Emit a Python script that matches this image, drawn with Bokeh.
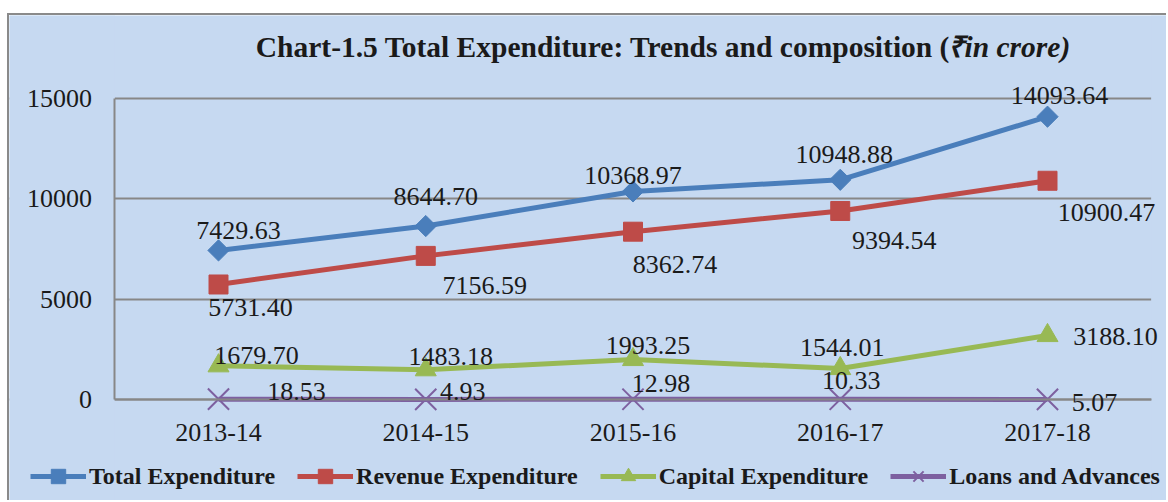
from bokeh.plotting import figure
from bokeh.models import (ColumnDataSource, Range1d, LabelSet, Label, BoxAnnotation,
                          Legend, LegendItem, FixedTicker)
from bokeh.embed import file_html
from bokeh.resources import INLINE
import math

years = ["2013-14", "2014-15", "2015-16", "2016-17", "2017-18"]
total = [7429.63, 8644.70, 10368.97, 10948.88, 14093.64]
revenue = [5731.40, 7156.59, 8362.74, 9394.54, 10900.47]
capital = [1679.70, 1483.18, 1993.25, 1544.01, 3188.10]
loans = [18.53, 4.93, 12.98, 10.33, 5.07]
y_ticks = [0, 5000, 10000, 15000]
series_names = ["Total Expenditure", "Revenue Expenditure", "Capital Expenditure", "Loans and Advances"]
title_main = "Chart-1.5 Total Expenditure: Trends and composition ("
title_unit = "\u20b9in crore)"

# label offsets (screen px, right / down)
total_dx = [20, 10, 0, 4, 12]
total_dy = [-20, -30, -16, -25, -21]
revenue_dx = [32, 59, 42, 54, 59]
revenue_dy = [23, 30, 33, 30, 32]
capital_dx = [38, 25, 15, 2, 68]
capital_dy = [-10, -13, -14, -21, 1]
loans_dx = [78, 37, 28, 11, 47]
loans_dy = [-8, -8, -16, -19, 3]

BG = "#C6D9F1"
GRID = "#878787"
INK = "#1a1a1a"
FONT = "Liberation Serif"
colors = ["#4A7EBB", "#BE4B48", "#98B954", "#7D60A0"]

# page-pixel layout of the plotting area
X0, DXP = 218.0, 207.25          # page x of first category, px per category
Y0, PPU = 399.0, 301.0 / 15000   # page y of value 0, px per unit
OX, OY = 9, 15                   # page position of canvas origin
W, H = 1159, 487

def dx_(px):
    return (px - X0) / DXP

def dy_(py):
    return (Y0 - py) / PPU

xs = list(range(len(years)))

p = figure(width=W, height=H, x_range=Range1d(dx_(OX), dx_(OX + W)),
           y_range=Range1d(dy_(OY + H), dy_(OY)), output_backend="svg", toolbar_location=None,
           min_border=0)
p.title.visible = False
p.styles = {"position": "relative", "top": "13px", "left": "7px",
            "border-left": "2px solid #8a8a8a", "border-top": "2px solid #8a8a8a"}
p.background_fill_color = BG
p.border_fill_color = BG
p.outline_line_color = None

p.xgrid.grid_line_color = None
p.ygrid.grid_line_color = GRID
p.ygrid.grid_line_width = 2

xa, ya = p.xaxis[0], p.yaxis[0]
xa.ticker = FixedTicker(ticks=xs)
xa.major_label_overrides = {i: y for i, y in zip(xs, years)}
xa.fixed_location = 0
xa.bounds = (-0.5, len(years) - 0.5)
ya.ticker = FixedTicker(ticks=y_ticks)
ya.fixed_location = -0.5
ya.bounds = (y_ticks[0], y_ticks[-1])
for ax in (xa, ya):
    ax.axis_line_color = GRID
    ax.axis_line_width = 2
    ax.major_tick_line_color = None
    ax.minor_tick_line_color = None
    ax.major_tick_out = 0
    ax.major_tick_in = 0
    ax.major_label_text_font = FONT
    ax.major_label_text_font_size = "26px"
    ax.major_label_text_color = INK
ya.major_label_standoff = 23
xa.major_label_standoff = 24

# mask grid lines outside the plot area
p.add_layout(BoxAnnotation(right=-0.5, fill_color=BG, fill_alpha=1, line_color=None, level="underlay"))
p.add_layout(BoxAnnotation(left=len(years) - 0.5, fill_color=BG, fill_alpha=1, line_color=None, level="underlay"))

datasets = [total, revenue, capital, loans]
dxs = [total_dx, revenue_dx, capital_dx, loans_dx]
dys = [total_dy, revenue_dy, capital_dy, loans_dy]
markers = ["square", "square", "triangle", "x"]
sizes = [15, 19, 21, 30]
angles = [math.pi / 4, 0, 0, 0]

items = []
for vals, dx, dy, mk, sz, ang, col, name in zip(datasets, dxs, dys, markers, sizes, angles, colors, series_names):
    src = ColumnDataSource(dict(x=xs, y=vals, lab=[f"{v:.2f}" for v in vals],
                                dx=dx, ndy=[-d for d in dy]))
    lr = p.line("x", "y", source=src, line_color=col, line_width=5, level="guide")
    if mk == "x":
        sr = p.scatter("x", "y", source=src, marker=mk, size=sz, line_color=col, line_width=2,
                       level="guide")
    else:
        sr = p.scatter("x", "y", source=src, marker=mk, size=sz, angle=ang,
                       fill_color=col, line_color=col, level="guide")
    p.add_layout(LabelSet(x="x", y="y", text="lab", source=src, x_offset="dx", y_offset="ndy",
                          text_align="center", text_baseline="middle",
                          text_font=FONT, text_font_size="26px", text_color=INK))
    items.append(LegendItem(label=name, renderers=[lr, sr]))

legend = Legend(items=items, orientation="horizontal", location=(21, 8),
                glyph_width=56, glyph_height=36, label_height=36, label_standoff=3, spacing=22,
                padding=0, margin=0, border_line_color=None, background_fill_alpha=0,
                label_text_font=FONT, label_text_font_size="24px", label_text_font_style="bold",
                label_text_color=INK)
p.add_layout(legend, "center")

p.add_layout(Label(x=dx_(950), y=dy_(46), text=title_main,
                   text_align="right", text_baseline="alphabetic", text_font=FONT,
                   text_font_size="29.5px", text_font_style="bold", text_color=INK))
p.add_layout(Label(x=dx_(947), y=dy_(46), text=title_unit,
                   text_align="left", text_baseline="alphabetic", text_font=FONT,
                   text_font_size="29.5px", text_font_style="bold italic", text_color=INK))

open("out.html", "w").write(file_html(p, INLINE))
